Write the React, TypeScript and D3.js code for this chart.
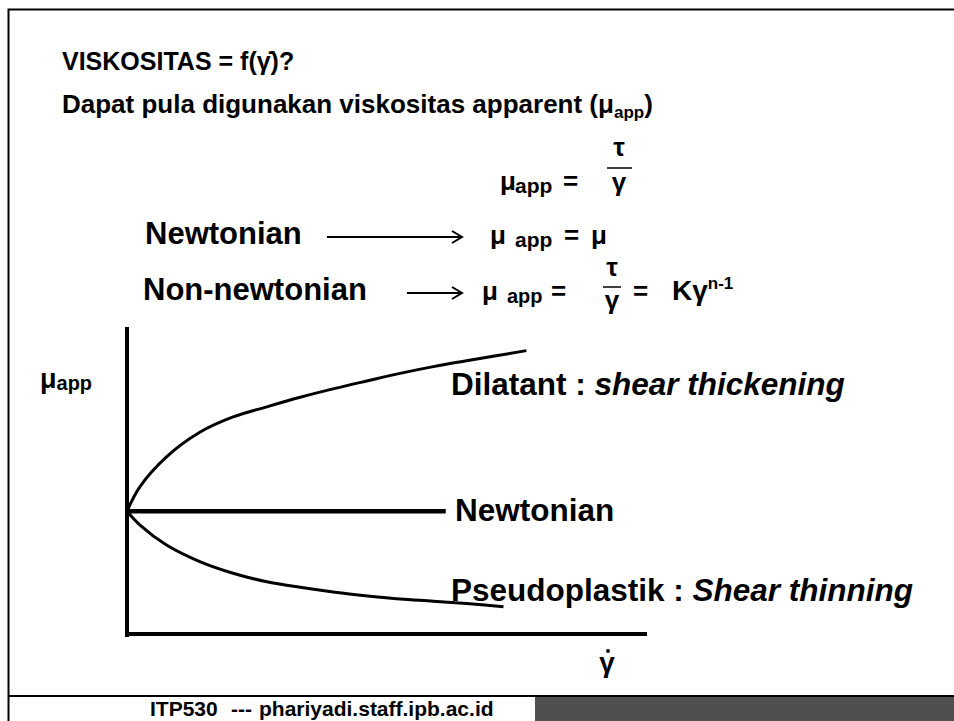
import React from "react";
import * as d3 from "d3";

// Curve values in plot units (x: shear rate, y: apparent viscosity)
const dilatantX = [0, 0.25, 0.76, 1.4, 2.04, 2.69, 3.33, 4.0, 4.63, 5.25, 5.89, 6.53, 7.68];
const dilatantY = [4.0, 4.8, 5.77, 6.57, 7.07, 7.4, 7.71, 8.0, 8.25, 8.49, 8.71, 8.9, 9.23];
const pseudoX = [0, 0.25, 0.76, 1.4, 2.04, 2.69, 3.33, 4.0, 4.63, 5.25, 5.89, 6.53, 7.24];
const pseudoY = [4.0, 3.55, 2.9, 2.36, 1.98, 1.7, 1.52, 1.36, 1.24, 1.14, 1.07, 0.99, 0.89];
const newtonX = [0, 6.13];
const newtonY = [4.0, 4.0];

const curveLabels = ["Dilatant : ", "shear thickening", "Newtonian", "Pseudoplastik : ", "Shear thinning"];

const W = 954;
const H = 721;
const FONT = "'Liberation Sans', Arial, sans-serif";

export default function App() {
  const x = d3.scaleLinear().domain([0, 10]).range([127, 647]);
  const y = d3.scaleLinear().domain([0, 10]).range([634, 327]);

  const line = d3
    .line<[number, number]>()
    .x((d) => x(d[0]))
    .y((d) => y(d[1]))
    .curve(d3.curveCatmullRom.alpha(0.5));

  const zip = (xs: number[], ys: number[]) => xs.map((v, i) => [v, ys[i]] as [number, number]);

  const dilatant = line(zip(dilatantX, dilatantY)) || "";
  const pseudo = line(zip(pseudoX, pseudoY)) || "";
  const newton = line(zip(newtonX, newtonY)) || "";

  const arrow = (x0: number, x1: number, yy: number) => (
    <g stroke="#000" strokeWidth={2} fill="none">
      <line x1={x0} y1={yy} x2={x1} y2={yy} />
      <polyline points={`${x1 - 10},${yy - 6} ${x1},${yy} ${x1 - 10},${yy + 6}`} />
    </g>
  );

  return (
    <svg
      width={W}
      height={H}
      viewBox={`0 0 ${W} ${H}`}
      style={{ position: "absolute", left: 0, top: 0, background: "#fff" }}
      fontFamily={FONT}
      fontWeight="bold"
    >
      <rect x={0} y={0} width={W} height={H} fill="#fff" />
      {/* frame */}
      <path d={`M8.5,${H} V9.5 H${W}`} stroke="#000" strokeWidth={2} fill="none" />
      <line x1={8} y1={696} x2={W} y2={696} stroke="#000" strokeWidth={2} />
      <rect x={535} y={697} width={W - 535} height={H - 697} fill="#4f4f4f" />

      {/* header */}
      <text x={62} y={70} fontSize={25}>
        VISKOSITAS = f(γ̇)?
      </text>
      <text x={62} y={113} fontSize={26}>
        Dapat pula digunakan viskositas apparent (μ
        <tspan fontSize={17} dy={5}>app</tspan>
        <tspan dy={-5}>)</tspan>
      </text>

      {/* definition */}
      <text x={500} y={190} fontSize={26}>μ</text>
      <text x={515} y={193} fontSize={21}>app</text>
      <text x={563} y={190} fontSize={26}>=</text>
      <text x={619} y={156} fontSize={26} textAnchor="middle">τ</text>
      <line x1={607} y1={168} x2={632} y2={168} stroke="#000" strokeWidth={1.5} />
      <text x={619} y={191} fontSize={26} textAnchor="middle">γ</text>

      {/* Newtonian row */}
      <text x={145} y={244} fontSize={31}>Newtonian</text>
      {arrow(327, 462, 237)}
      <text x={490} y={244} fontSize={26}>μ</text>
      <text x={515} y={247} fontSize={21}>app</text>
      <text x={564} y={244} fontSize={26}>=</text>
      <text x={591} y={244} fontSize={26}>μ</text>

      {/* Non-newtonian row */}
      <text x={143} y={300} fontSize={31}>Non-newtonian</text>
      {arrow(407, 462, 293)}
      <text x={482} y={300} fontSize={26}>μ</text>
      <text x={507} y={303} fontSize={20}>app</text>
      <text x={551} y={300} fontSize={26}>=</text>
      <text x={612} y={276} fontSize={26} textAnchor="middle">τ</text>
      <line x1={603} y1={287} x2={621} y2={287} stroke="#000" strokeWidth={1.5} />
      <text x={612} y={309} fontSize={26} textAnchor="middle">γ</text>
      <text x={633} y={300} fontSize={26}>=</text>
      <text x={672} y={300} fontSize={28}>
        Kγ<tspan fontSize={17} dy={-11}>n-1</tspan>
      </text>

      {/* axes */}
      <line x1={x(0)} y1={y(10)} x2={x(0)} y2={y(0) + 3} stroke="#000" strokeWidth={4} />
      <line x1={x(0) - 2} y1={y(0)} x2={x(10)} y2={y(0)} stroke="#000" strokeWidth={4} />

      {/* curves */}
      <path d={dilatant} fill="none" stroke="#000" strokeWidth={3} />
      <path d={newton} fill="none" stroke="#000" strokeWidth={4.5} />
      <path d={pseudo} fill="none" stroke="#000" strokeWidth={3} />

      {/* curve labels */}
      <text x={451} y={395} fontSize={31.5}>
        {curveLabels[0]}
        <tspan fontStyle="italic">{curveLabels[1]}</tspan>
      </text>
      <text x={455} y={521} fontSize={31.5}>{curveLabels[2]}</text>
      <text x={451} y={601} fontSize={31.5}>
        {curveLabels[3]}
        <tspan fontStyle="italic">{curveLabels[4]}</tspan>
      </text>

      {/* axis titles */}
      <text x={40} y={388} fontSize={27}>
        μ<tspan fontSize={20} dy={2}>app</tspan>
      </text>
      <text x={607} y={672} fontSize={28} textAnchor="middle">γ</text>
      <circle cx={608} cy={651} r={2} fill="#000" />

      {/* footer */}
      <text x={150} y={716} fontSize={21}>ITP530</text>
      <text x={231} y={716} fontSize={21}>---</text>
      <text x={259} y={716} fontSize={21}>phariyadi.staff.ipb.ac.id</text>
    </svg>
  );
}
